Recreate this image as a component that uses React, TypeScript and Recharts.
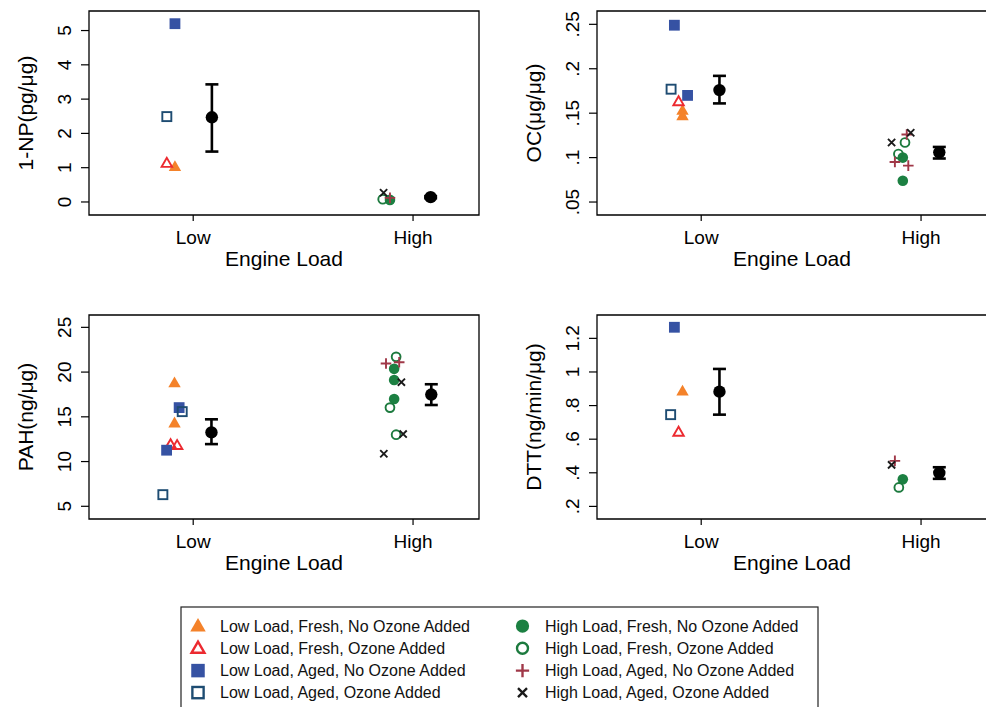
import React from 'react';
import { ErrorBar, ReferenceArea, Scatter, ScatterChart, XAxis, YAxis } from 'recharts';

type Pt = [number, number];

// x = load group (1 = Low, 2 = High) with the small jitter seen in the figure
const X_DOMAIN: [number, number] = [0.526, 2.3];
const X_TICKS = [1, 2];
const LOAD_LABELS = ['Low', 'High'];

const SERIES = [
  { key: 'lfn', name: 'Low Load, Fresh, No Ozone Added', kind: 'triFill', color: '#F4822A' },
  { key: 'lfo', name: 'Low Load, Fresh, Ozone Added', kind: 'triOpen', color: '#EC2A30' },
  { key: 'lan', name: 'Low Load, Aged, No Ozone Added', kind: 'sqFill', color: '#3652A3' },
  { key: 'lao', name: 'Low Load, Aged, Ozone Added', kind: 'sqOpen', color: '#1E4C72' },
  { key: 'hfn', name: 'High Load, Fresh, No Ozone Added', kind: 'circFill', color: '#1C8042' },
  { key: 'hfo', name: 'High Load, Fresh, Ozone Added', kind: 'circOpen', color: '#1C7A3E' },
  { key: 'han', name: 'High Load, Aged, No Ozone Added', kind: 'plus', color: '#A03848' },
  { key: 'hao', name: 'High Load, Aged, Ozone Added', kind: 'cross', color: '#1A1A1A' },
];

// 1-NP (pg/µg)
const npPoints: Record<string, Pt[]> = {
  lfn: [[0.917, 1.03]],
  lfo: [[0.88, 1.13]],
  lan: [[0.917, 5.2]],
  lao: [[0.88, 2.49]],
  hfn: [[1.895, 0.06]],
  hfo: [[1.862, 0.08]],
  han: [[1.895, 0.12]],
  hao: [[1.866, 0.27]],
};
// [x, mean, lower, upper]
const npMeans = [[1.085, 2.47, 1.47, 3.43], [2.08, 0.14, 0.11, 0.17]];
const npTicks = [0, 1, 2, 3, 4, 5];

// OC (µg/µg)
const ocPoints: Record<string, Pt[]> = {
  lfn: [[0.915, 0.153], [0.915, 0.147]],
  lfo: [[0.897, 0.163]],
  lan: [[0.878, 0.249], [0.938, 0.17]],
  lao: [[0.863, 0.177]],
  hfn: [[1.917, 0.1], [1.917, 0.074]],
  hfo: [[1.927, 0.117], [1.897, 0.104]],
  han: [[1.935, 0.126], [1.881, 0.095], [1.942, 0.091]],
  hao: [[1.866, 0.117], [1.953, 0.128]],
};
const ocMeans = [[1.083, 0.176, 0.161, 0.192], [2.083, 0.106, 0.099, 0.112]];
const ocTicks = [0.05, 0.1, 0.15, 0.2, 0.25];

// PAH (ng/µg)
const pahPoints: Record<string, Pt[]> = {
  lfn: [[0.915, 18.79], [0.915, 14.3]],
  lfo: [[0.897, 11.9], [0.927, 11.8]],
  lan: [[0.936, 16.03], [0.879, 11.27]],
  lao: [[0.95, 15.58], [0.862, 6.3]],
  hfn: [[1.914, 20.36], [1.914, 19.12], [1.914, 16.99]],
  hfo: [[1.923, 21.7], [1.895, 16.03], [1.923, 13.0]],
  han: [[1.877, 20.96], [1.937, 21.1]],
  hao: [[1.947, 18.87], [1.955, 13.07], [1.867, 10.87]],
};
const pahMeans = [[1.083, 13.26, 11.95, 14.72], [2.083, 17.49, 16.32, 18.64]];
const pahTicks = [5, 10, 15, 20, 25];

// DTT (ng/min/µg)
const dttPoints: Record<string, Pt[]> = {
  lfn: [[0.915, 0.885]],
  lfo: [[0.897, 0.642]],
  lan: [[0.878, 1.266]],
  lao: [[0.861, 0.746]],
  hfn: [[1.917, 0.361]],
  hfo: [[1.899, 0.313]],
  han: [[1.881, 0.471]],
  hao: [[1.866, 0.447]],
};
const dttMeans = [[1.083, 0.883, 0.746, 1.018], [2.083, 0.399, 0.364, 0.433]];
const dttTicks = [0.2, 0.4, 0.6, 0.8, 1, 1.2];

const PANELS = [
  { id: 'np', title: '1-NP(pg/μg)', left: 0, top: 0, height: 280, mt: 11, domain: [-0.38, 5.57], ticks: npTicks, points: npPoints, means: npMeans },
  { id: 'oc', title: 'OC(μg/μg)', left: 508, top: 0, height: 280, mt: 11, domain: [0.0354, 0.265], ticks: ocTicks, points: ocPoints, means: ocMeans },
  { id: 'pah', title: 'PAH(ng/μg)', left: 0, top: 300, height: 284, mt: 15, domain: [3.58, 26.38], ticks: pahTicks, points: pahPoints, means: pahMeans },
  { id: 'dtt', title: 'DTT(ng/min/μg)', left: 508, top: 300, height: 284, mt: 15, domain: [0.125, 1.339], ticks: dttTicks, points: dttPoints, means: dttMeans },
];

const FONT = '"Liberation Sans", Arial, Helvetica, sans-serif';

const fmtY = (v: number) => String(v).replace(/^0\./, '.');

const Marker = ({ kind, color, cx, cy, s = 1 }: { kind: string; color: string; cx: number; cy: number; s?: number }) => {
  const sw = 1.9 * s;
  switch (kind) {
    case 'triFill': {
      const w = 6.2 * s, h = 10.8 * s;
      return <polygon points={`${cx},${cy - h * 0.6} ${cx - w},${cy + h * 0.4} ${cx + w},${cy + h * 0.4}`} fill={color} />;
    }
    case 'triOpen': {
      const w = 5.2 * s, h = 9 * s;
      return (
        <polygon
          points={`${cx},${cy - h * 0.6} ${cx - w},${cy + h * 0.4} ${cx + w},${cy + h * 0.4}`}
          fill="none"
          stroke={color}
          strokeWidth={sw}
          strokeLinejoin="miter"
        />
      );
    }
    case 'sqFill': {
      const a = 5.4 * s;
      return <rect x={cx - a} y={cy - a} width={2 * a} height={2 * a} fill={color} />;
    }
    case 'sqOpen': {
      const a = 4.5 * s;
      return <rect x={cx - a} y={cy - a} width={2 * a} height={2 * a} fill="none" stroke={color} strokeWidth={sw} />;
    }
    case 'circFill':
      return <circle cx={cx} cy={cy} r={5.3 * s} fill={color} />;
    case 'circOpen':
      return <circle cx={cx} cy={cy} r={4.4 * s} fill="none" stroke={color} strokeWidth={sw} />;
    case 'plus': {
      const a = 5.3 * s;
      return <path d={`M${cx - a},${cy}H${cx + a}M${cx},${cy - a}V${cy + a}`} stroke={color} strokeWidth={sw} />;
    }
    case 'cross': {
      const a = 3.6 * s;
      return (
        <path
          d={`M${cx - a},${cy - a}L${cx + a},${cy + a}M${cx - a},${cy + a}L${cx + a},${cy - a}`}
          stroke={color}
          strokeWidth={sw}
        />
      );
    }
    default:
      return null;
  }
};

const YTick = (props: any) => {
  const { x, y, payload } = props;
  return (
    <text x={x} y={y} transform={`rotate(-90 ${x} ${y})`} textAnchor="middle" fontSize={19} fill="#000" fontFamily={FONT}>
      {fmtY(payload.value)}
    </text>
  );
};

const makeYTitle = (title: string) => (props: any) => {
  const vb = props.viewBox || { x: 0, y: 0, width: 89, height: 200 };
  const bx = vb.x + 33;
  const cy = vb.y + vb.height / 2;
  return (
    <text x={bx} y={cy} transform={`rotate(-90 ${bx} ${cy})`} textAnchor="middle" fontSize={21} fill="#000" fontFamily={FONT}>
      {title}
    </text>
  );
};

const XTitle = (props: any) => {
  const vb = props.viewBox || { x: 89, y: 215, width: 390, height: 65 };
  return (
    <text x={vb.x + vb.width / 2} y={vb.y + 51} textAnchor="middle" fontSize={21} fill="#000" fontFamily={FONT}>
      Engine Load
    </text>
  );
};

const Panel = ({ panel }: { panel: (typeof PANELS)[number] }) => {
  const [yMin, yMax] = panel.domain;
  const meanData = panel.means.map(([x, m, lo, hi]) => ({ x, y: m, err: [m - lo, hi - m] }));
  return (
    <div style={{ position: 'absolute', left: panel.left, top: panel.top }}>
      <ScatterChart width={480} height={panel.height} margin={{ top: panel.mt, right: 1, bottom: 0, left: 0 }}>
        <XAxis
          type="number"
          dataKey="x"
          domain={X_DOMAIN}
          allowDataOverflow
          ticks={X_TICKS}
          interval={0}
          tickFormatter={(v: number) => LOAD_LABELS[v - 1]}
          height={65}
          axisLine={false}
          tickSize={6}
          tickMargin={10}
          tickLine={{ stroke: '#000', strokeWidth: 1.2 }}
          tick={{ fontSize: 19, fill: '#000', fontFamily: FONT }}
          label={XTitle}
        />
        <YAxis
          type="number"
          dataKey="y"
          domain={[yMin, yMax]}
          allowDataOverflow
          ticks={panel.ticks}
          interval={0}
          width={89}
          axisLine={false}
          tickSize={8}
          tickMargin={10}
          tickLine={{ stroke: '#000', strokeWidth: 1.2 }}
          tick={<YTick />}
          label={makeYTitle(panel.title)}
        />
        <ReferenceArea
          x1={X_DOMAIN[0]}
          x2={X_DOMAIN[1]}
          y1={yMin}
          y2={yMax}
          fill="none"
          fillOpacity={0}
          stroke="#000"
          strokeWidth={1.3}
          ifOverflow="visible"
        />
        {SERIES.map((s) => (
          <Scatter
            key={s.key}
            name={s.name}
            data={(panel.points[s.key] || []).map(([x, y]) => ({ x, y }))}
            isAnimationActive={false}
            shape={(p: any) => <Marker kind={s.kind} color={s.color} cx={p.cx} cy={p.cy} />}
          />
        ))}
        <Scatter
          name="Mean"
          data={meanData}
          isAnimationActive={false}
          shape={(p: any) => <circle cx={p.cx} cy={p.cy} r={6.2} fill="#000" />}
        >
          <ErrorBar dataKey="err" direction="y" width={6.5} strokeWidth={2.6} stroke="#000" />
        </Scatter>
      </ScatterChart>
    </div>
  );
};

const SharedLegend = () => {
  const rowY = [20, 42.3, 64.6, 86.6];
  return (
    <svg
      width={640}
      height={110}
      style={{ position: 'absolute', left: 180, top: 606 }}
      fontFamily={FONT}
    >
      <rect x={1} y={1} width={637} height={130} fill="#fff" stroke="#222" strokeWidth={1.2} />
      {SERIES.map((s, i) => {
        const col = i < 4 ? 0 : 1;
        const cy = rowY[i % 4];
        const mx = col === 0 ? 18 : 342.5;
        const tx = col === 0 ? 40 : 365;
        return (
          <g key={s.key}>
            <Marker kind={s.kind} color={s.color} cx={mx} cy={cy} s={1.25} />
            <text x={tx} y={cy + 5.8} fontSize={16} fill="#111">
              {s.name}
            </text>
          </g>
        );
      })}
    </svg>
  );
};

export default function App() {
  return (
    <div
      style={{
        position: 'absolute',
        left: 0,
        top: 0,
        width: 986,
        height: 707,
        overflow: 'hidden',
        background: '#fff',
        fontFamily: FONT,
      }}
    >
      {PANELS.map((p) => (
        <Panel key={p.id} panel={p} />
      ))}
      <SharedLegend />
    </div>
  );
}
